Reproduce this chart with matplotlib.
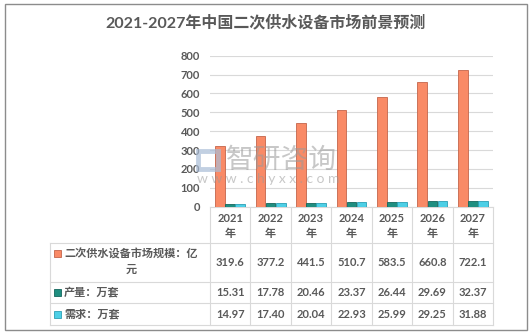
import numpy as np
import matplotlib.pyplot as plt
import matplotlib.transforms as mtransforms
from matplotlib.patches import Rectangle

plt.rcParams['font.family'] = ['Lato', 'Noto Sans CJK SC', 'DejaVu Sans']

years = ['2021', '2022', '2023', '2024', '2025', '2026', '2027']
market = [319.6, 377.2, 441.5, 510.7, 583.5, 660.8, 722.1]
output = [15.31, 17.78, 20.46, 23.37, 26.44, 29.69, 32.37]
demand = [14.97, 17.40, 20.04, 22.93, 25.99, 29.25, 31.88]
series_names = ['二次供水设备市场规模：亿\n元', '产量：万套', '需求：万套']
market_fmt = ['%.1f' % v for v in market]
output_fmt = ['%.2f' % v for v in output]
demand_fmt = ['%.2f' % v for v in demand]

W, H = 532, 334
txt = '#595959'
grid = '#D9D9D9'
colors = ['#F98A66', '#1F8E80', '#4DCFE6']
edges = ['#C4654B', '#14665C', '#2C9FB5']


def fx(x):
    return x / W


def fy(y):
    return 1 - y / H


fig = plt.figure(figsize=[W / 100, H / 100], dpi=100)
ax = fig.add_axes([fx(210), fy(206.7), fx(493) - fx(210), (206.7 - 55.7) / H])

x = np.arange(len(years))
bw = 0.24
ax.bar(x - 0.25, market, bw, color=colors[0], edgecolor=edges[0], lw=0.6, zorder=3)
ax.bar(x, output, bw, color=colors[1], edgecolor=edges[1], lw=0.6, zorder=3)
ax.bar(x + 0.25, demand, bw, color=colors[2], edgecolor=edges[2], lw=0.6, zorder=3)

ax.set_xlim(-0.5, len(years) - 0.5)
ax.set_ylim(0, 800)
ax.set_yticks(np.arange(0, 801, 100))
ax.set_xticks([])
ax.tick_params(axis='y', length=0, pad=7, labelsize=8, labelcolor=txt)
for lab in ax.get_yticklabels():
    lab.set_fontweight('bold')
ax.grid(axis='y', color=grid, lw=0.8, zorder=0)
for s in ['left', 'right', 'top']:
    ax.spines[s].set_visible(False)
ax.spines['bottom'].set_color(grid)

# title
fig.text(0.5, fy(22), '2021-2027年中国二次供水设备市场前景预测', ha='center', va='center',
         fontsize=11.5, fontweight='bold', color=txt)

# watermark
fig.patches.append(Rectangle((fx(198), fy(169)), fx(20), 18 / H, transform=fig.transFigure,
                             fill=False, ec='#A9BCD6', lw=3.5, alpha=0.7, zorder=5))
fig.text(fx(226), fy(160), '智研咨询', ha='left', va='center', fontsize=20,
         color='#9A9A9A', alpha=0.55, zorder=5)
fig.text(fx(197), fy(179), 'w w w . c h y x x . c o m', ha='left', va='center',
         fontsize=10, color='#9A9A9A', alpha=0.55, zorder=5)

# data table
bt = mtransforms.blended_transform_factory(ax.transData, fig.transFigure)
ft = fig.transFigure
rows_y = [243, 282, 303, 325]
for yy in rows_y:
    fig.add_artist(plt.Line2D([fx(50), fx(493)], [fy(yy), fy(yy)], color=grid, lw=0.8, transform=ft))
fig.add_artist(plt.Line2D([fx(50), fx(50)], [fy(243), fy(325)], color=grid, lw=0.8, transform=ft))
for i in range(len(years) + 1):
    fig.add_artist(plt.Line2D([i - 0.5, i - 0.5], [fy(207), fy(325)], color=grid, lw=0.8, transform=bt))

for i, yr in enumerate(years):
    fig.text(i, fy(218), yr, transform=bt, ha='center', va='center', fontsize=8,
             fontweight='bold', color=txt)
    fig.text(i, fy(234), '年', transform=bt, ha='center', va='center', fontsize=8,
             fontweight='bold', color=txt)
    fig.text(i, fy(262.5), market_fmt[i], transform=bt, ha='center', va='center',
             fontsize=8, fontweight='bold', color=txt)
    fig.text(i, fy(292.5), output_fmt[i], transform=bt, ha='center', va='center',
             fontsize=8, fontweight='bold', color=txt)
    fig.text(i, fy(314), demand_fmt[i], transform=bt, ha='center', va='center',
             fontsize=8, fontweight='bold', color=txt)

label_y = [262, 292.5, 314]
for name, c, e, yy in zip(series_names, colors, edges, label_y):
    sq_y = 253 if '\n' in name else yy
    fig.patches.append(Rectangle((fx(54), fy(sq_y + 3.5)), 7 / W, 7 / H, transform=ft,
                                 fc=c, ec=e, lw=0.6))
    fig.text(fx(64), fy(yy), name, ha='left', va='center', fontsize=8,
             fontweight='bold', color=txt, multialignment='center', linespacing=1.5)

# outer frame
fig.patches.append(Rectangle((fx(5), fy(330)), fx(527) - fx(5), (330 - 4) / H,
                             transform=ft, fill=False, ec='#8C8C8C', lw=1))

plt.savefig('out.png', dpi=100)
